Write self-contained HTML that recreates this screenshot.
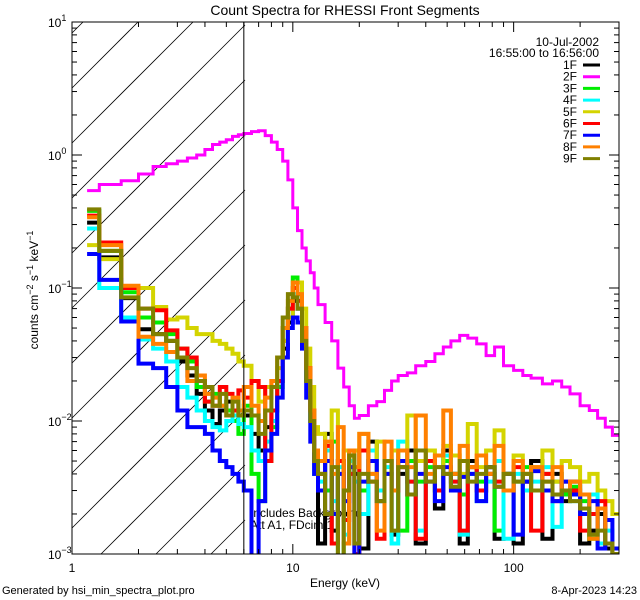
<!DOCTYPE html>
<html><head><meta charset="utf-8">
<style>
html,body{margin:0;padding:0;background:#fff;width:640px;height:600px;overflow:hidden;}
svg{display:block;font-family:"Liberation Sans","DejaVu Sans",sans-serif;}
</style></head>
<body>
<svg id="chart" width="640" height="600" viewBox="0 0 640 600" xmlns="http://www.w3.org/2000/svg">
<rect x="0" y="0" width="640" height="600" fill="#fff"/>
<defs><clipPath id="plotclip"><rect x="72" y="22" width="547" height="532"/></clipPath></defs>
<text x="345" y="15" font-size="14" text-anchor="middle">Count Spectra for RHESSI Front Segments</text>
<g id="hatch"></g>
<text x="250" y="517" font-size="12">Includes Background</text>
<text x="250" y="529" font-size="12">Att A1, FDcim 1</text>
<g id="series" clip-path="url(#plotclip)"></g>
<g id="axes"></g>
<text transform="translate(38,290) rotate(-90)" font-size="12" text-anchor="middle">counts cm<tspan dy="-5" font-size="9">−2</tspan><tspan dy="5"> s</tspan><tspan dy="-5" font-size="9">−1</tspan><tspan dy="5"> keV</tspan><tspan dy="-5" font-size="9">−1</tspan></text>
<text x="345" y="587" font-size="12" text-anchor="middle">Energy (keV)</text>
<text x="2" y="594" font-size="11">Generated by hsi_min_spectra_plot.pro</text>
<text x="637" y="594" font-size="11" text-anchor="end">8-Apr-2023 14:23</text>
<text x="599" y="46" font-size="12" text-anchor="end">10-Jul-2002</text>
<text x="599" y="57" font-size="12" text-anchor="end">16:55:00 to 16:56:00</text>
<g id="legend"></g>
</svg>
<script>
const energyEdges=[1.17,1.33,1.67,2.0,2.33,2.67,3.0,3.33,3.67,4.0,4.33,4.67,5.0,5.33,5.67,6.0,6.5,7.0,7.5,8.0,8.5,9.0,9.5,10.0,10.5,11.0,11.5,12.0,12.5,13,14,15,16,17,18,19,20,22,24,26,28,30,33,36,40,44,48,52,57,62,68,75,82,90,100,110,120,135,150,165,180,200,220,240,260,280,300];
const seriesNames=["1F","2F","3F","4F","5F","6F","7F","8F","9F"];
const seriesColors=["#000000","#ff00ff","#00ee00","#00ffff","#d4d400","#ff0000","#0000ff","#ff8000","#808000"];
const s1F=[.31,.17,.084,.049,.045,.04,.028,.022,.016,.012,.0095,.012,.014,.011,.012,.011,
.008,.006,.009,.012,.02,.035,.055,.08,.07,.04,.02,.01,.004,
.0012,.008,.0015,.005,.002,.006,.004,.0011,.007,.003,.005,.0014,.004,.006,.0012,.005,.0022,.006,.004,.0012,.005,.003,.0045,.0013,.004,.0012,.0035,.005,.0013,.004,.0025,.0035,.0012,.0015,.002,.0011,.0009];
const s2F=[.54,.6,.64,.72,.82,.86,.9,.95,1.0,1.1,1.2,1.25,1.3,1.38,1.42,1.45,1.5,1.52,1.4,1.25,1.1,.9,.65,.4,.27,.2,.16,.13,.1,.075,.055,.04,.025,.018,.013,.0105,.011,.013,.014,.017,.02,.022,.023,.026,.028,.032,.036,.04,.044,.042,.038,.031,.036,.026,.024,.022,.021,.019,.020,.018,.016,.013,.012,.0105,.009,.0078];
const s3F=[.38,.19,.093,.06,.055,.045,.035,.028,.018,.014,.016,.013,.012,.01,.008,.013,
.004,.0025,.005,.009,.018,.04,.07,.12,.09,.05,.025,.012,.005,
.005,.003,.007,.0009,.0012,.004,.006,.003,.005,.0025,.004,.006,.0015,.005,.0035,.0045,.003,.005,.004,.0028,.0045,.0035,.004,.0015,.004,.0035,.0045,.003,.004,.0035,.0028,.0032,.0025,.0013,.0022,.0012,.0011];
const s4F=[.28,.1,.06,.041,.035,.028,.018,.015,.012,.01,.009,.0085,.01,.011,.0095,.009,
.006,.005,.007,.01,.02,.04,.06,.09,.07,.04,.02,.01,.004,
.0035,.006,.0025,.0045,.0014,.005,.0035,.002,.006,.003,.0045,.0012,.007,.0035,.0015,.005,.003,.0055,.0035,.0014,.004,.0025,.0035,.005,.0013,.004,.003,.0035,.0045,.0016,.003,.0025,.002,.0028,.0012,.0015,.0009];
const s5F=[.21,.165,.1,.1,.072,.058,.06,.05,.045,.045,.04,.038,.035,.032,.028,.026,
.02,.014,.018,.02,.025,.04,.06,.1,.11,.07,.035,.018,.009,
.008,.005,.012,.004,.006,.0045,.006,.008,.004,.007,.005,.006,.0045,.011,.005,.006,.0045,.0065,.0055,.004,.0095,.0045,.006,.0085,.004,.0055,.004,.0045,.006,.0035,.005,.0045,.0035,.004,.003,.0025,.002];
const s6F=[.35,.22,.1,.07,.068,.048,.035,.03,.02,.014,.013,.018,.016,.012,.017,.015,
.02,.018,.005,.012,.02,.05,.07,.1,.08,.05,.025,.012,.005,
.004,.0065,.0012,.005,.0018,.004,.001,.006,.0035,.0013,.005,.003,.0045,.0035,.0013,.005,.003,.004,.0035,.0015,.0045,.003,.004,.0035,.003,.0045,.0035,.0015,.004,.0025,.0035,.003,.0015,.002,.0025,.0012,.0011];
const s7F=[.18,.115,.056,.027,.025,.018,.012,.009,.009,.008,.006,.005,.0045,.004,.0035,.003,
.0008,.0025,.006,.008,.015,.03,.05,.06,.055,.035,.015,.007,.004,
.003,.005,.002,.004,.0025,.0045,.0009,.0035,.005,.0025,.004,.003,.005,.0028,.004,.0035,.0025,.0045,.003,.0038,.004,.0025,.0045,.0032,.004,.0014,.0035,.0042,.003,.0025,.0035,.0028,.002,.0025,.0011,.0018,.0011];
const s8F=[.34,.21,.104,.043,.038,.033,.03,.02,.022,.016,.015,.013,.011,.015,.012,.018,
.013,.01,.015,.02,.03,.05,.08,.11,.09,.05,.025,.012,.006,
.005,.007,.004,.009,.0012,.006,.0045,.008,.004,.0015,.007,.003,.006,.0045,.011,.004,.0055,.012,.004,.0065,.0045,.0055,.004,.0065,.003,.005,.004,.0045,.0035,.0045,.003,.0035,.0028,.0013,.0022,.0012,.001];
const s9F=[.39,.19,.085,.07,.045,.04,.03,.025,.02,.018,.013,.016,.011,.014,.011,.012,
.011,.008,.012,.018,.03,.06,.09,.085,.07,.04,.02,.01,.005,
.004,.002,.0045,.0008,.003,.0055,.0012,.004,.0035,.0025,.005,.0015,.0045,.0028,.006,.0035,.0045,.004,.0032,.005,.0035,.004,.0045,.0032,.004,.0035,.004,.003,.0035,.0028,.003,.0025,.0022,.0014,.0015,.0012,.001];
const xTickLabels=["1","10","100"];
const yTickExps=["1","0","-1","-2","-3"];

const NS="http://www.w3.org/2000/svg";
const X0=72,X1=619,Y0=22,Y1=554;
const XMIN=1,XMAX=300,YMIN=1e-3,YMAX=10;
function xs(e){return X0+(Math.log10(e)-Math.log10(XMIN))/(Math.log10(XMAX)-Math.log10(XMIN))*(X1-X0);}
function ys(v){return Y1-(Math.log10(v)-Math.log10(YMIN))/(Math.log10(YMAX)-Math.log10(YMIN))*(Y1-Y0);}
function mk(tag,attrs,parent){const el=document.createElementNS(NS,tag);for(const k in attrs)el.setAttribute(k,attrs[k]);parent.appendChild(el);return el;}

// hatching, clipped geometrically to region x 72..245, y 22..554
const hatch=document.getElementById('hatch');
const HX=245;
for(let c=25-55*10;c<=Y1+(HX-X0);c+=55){
  // line: y = c + (HX - x)
  let xa=X0, ya=c+(HX-X0);
  let xb=HX, yb=c;
  if(ya>Y1){xa=HX-(Y1-c);ya=Y1;}
  if(yb<Y0){xb=HX-(Y0-c);yb=Y0;}
  if(xa>=xb)continue;
  const ln=mk('line',{x1:xa,y1:ya,x2:xb,y2:yb,stroke:'#000','stroke-width':0.8},hatch);
  
  
}
const vl=mk('line',{x1:xs(6),y1:Y0,x2:xs(6),y2:Y1,stroke:'#000','stroke-width':1},hatch.parentNode);



const allSeries=[s1F,s2F,s3F,s4F,s5F,s6F,s7F,s8F,s9F];
const sg=document.getElementById('series');
allSeries.forEach((vals,i)=>{
  let d='';
  const n=Math.min(vals.length,energyEdges.length-1);
  for(let k=0;k<n;k++){
    const y=Math.min(Y1+3,Math.max(Y0-3,ys(vals[k]))).toFixed(1);
    const xa=xs(energyEdges[k]).toFixed(1),xb=xs(energyEdges[k+1]).toFixed(1);
    d+=(k===0?'M':'L')+xa+','+y+'L'+xb+','+y;
  }
  const p=mk('path',{d:d,fill:'none',stroke:seriesColors[i],'stroke-width':i===1?3:4,'stroke-linejoin':'miter'},sg);
  
  
});

const ax=document.getElementById('axes');
const box=mk('rect',{x:X0,y:Y0,width:X1-X0,height:Y1-Y0,fill:'none',stroke:'#000','stroke-width':1},ax);


for(let dec=0;dec<3;dec++){
  for(let m=1;m<10;m++){
    const e=Math.pow(10,dec)*m; if(e>XMAX)break;
    const x=xs(e), L=(m===1)?10:5;
    let t=mk('line',{x1:x,y1:Y1,x2:x,y2:Y1-L,stroke:'#000'},ax);
    
    
    t=mk('line',{x1:x,y1:Y0,x2:x,y2:Y0+L,stroke:'#000'},ax);
    
    
  }
}
xTickLabels.forEach(lbl=>{
  const t=mk('text',{x:xs(parseFloat(lbl)),y:572,'font-size':12,'text-anchor':'middle'},ax);
  t.textContent=lbl;
  
  
});
for(let dec=-3;dec<1;dec++){
  for(let m=1;m<10;m++){
    const v=Math.pow(10,dec)*m;
    const y=ys(v), L=(m===1)?10:5;
    let t=mk('line',{x1:X0,y1:y,x2:X0+L,y2:y,stroke:'#000'},ax);
    
    
    t=mk('line',{x1:X1,y1:y,x2:X1-L,y2:y,stroke:'#000'},ax);
    
    
  }
}
yTickExps.forEach(ex=>{
  const y=ys(Math.pow(10,parseFloat(ex)));
  const t=mk('text',{x:48,y:y+5,'font-size':12},ax);
  
  
  t.textContent='10';
  const s=mk('tspan',{dy:-6,'font-size':9},t);
  s.textContent=ex.replace('-','−');
});

const lg=document.getElementById('legend');
seriesNames.forEach((nm,i)=>{
  const y=65+i*11.7;
  const t=mk('text',{x:577,y:y+4,'font-size':12,'text-anchor':'end'},lg);
  t.textContent=nm;
  
  
  const l=mk('line',{x1:583,y1:y,x2:600,y2:y,stroke:seriesColors[i],'stroke-width':3},lg);
  
  
});
</script>
</body></html>
